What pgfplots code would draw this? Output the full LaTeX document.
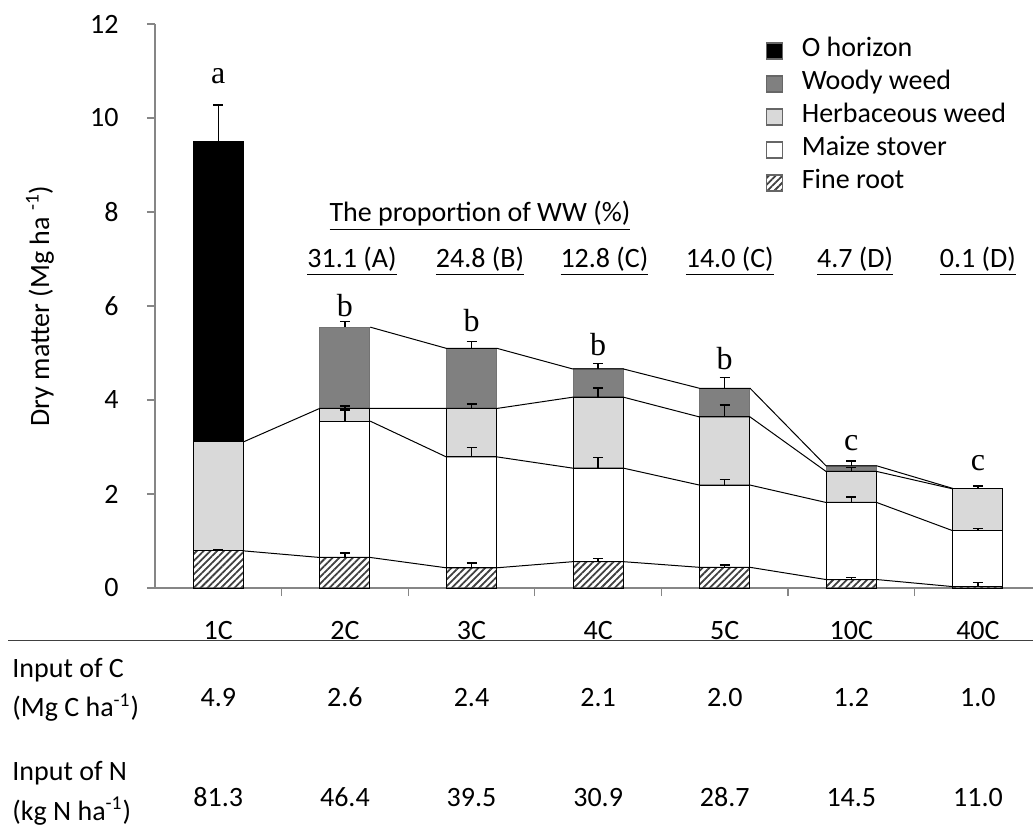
\documentclass[border=0pt]{standalone}
\usepackage{fontspec}
\setmainfont{Carlito}
\newfontfamily\timesf{Liberation Serif}
\usepackage{pgfplots}
\pgfplotsset{compat=1.18}
\usetikzlibrary{patterns.meta}
\definecolor{axgray}{HTML}{868686}
\definecolor{wwgray}{HTML}{808080}
\definecolor{hwgray}{HTML}{D9D9D9}

\pgfplotstableread{
x y ey
0 0.79 0.03
0 9.49 0.79
1 0.65 0.09
1 3.55 0.24
1 3.82 0.05
1 5.55 0.12
2 0.43 0.10
2 2.79 0.20
2 3.82 0.10
2 5.10 0.14
3 0.56 0.07
3 2.55 0.23
3 4.06 0.20
3 4.66 0.12
4 0.44 0.05
4 2.19 0.12
4 3.64 0.25
4 4.25 0.23
5 0.18 0.04
5 1.82 0.12
5 2.48 0.08
5 2.60 0.10
6 0.03 0.09
6 1.22 0.05
6 2.11 0.06
}\errtable

\begin{document}
\fontsize{14}{17}\selectfont
\begin{tikzpicture}
\useasboundingbox (0,0) rectangle (516.5pt,418pt);
\pgfplotsset{
  base/.style={
    scale only axis, width=439pt, height=282pt,
    at={(77.5pt,124pt)}, anchor=south west,
    xmin=-0.5, xmax=6.435, ymin=0, ymax=12,
    clip=false,
  },
  sq legend/.style={legend image code/.code={\draw[##1,line width=0.6pt,draw=black!60] (0pt,-4pt) rectangle (8pt,4pt);}},
}
\begin{axis}[base, ybar stacked, bar width=0.395,
  axis lines*=left,
  axis line style={axgray, line width=0.6pt},
  ytick={0,2,...,12},
  tick align=outside,
  major tick length=4pt, minor tick length=4pt,
  every tick/.style={axgray, line width=0.6pt},
  xtick={0,...,6},
  xticklabels={1C,2C,3C,4C,5C,10C,40C},
  major x tick style={draw=none},
  minor xtick={0.5,1.5,...,5.5},
  /pgf/number format/assume math mode=true,
  yticklabel style={anchor=east, inner sep=0pt, xshift=-14pt},
  xticklabel style={anchor=base, inner sep=0pt, yshift=-21.85pt},
  ylabel={Dry matter (Mg ha \textsuperscript{-1})},
  every axis y label/.style={at={(rel axis cs:0,0.5)}, xshift=-57.5pt, rotate=90, anchor=center},
  legend style={draw=none, fill=none, inner sep=0pt, at={(0.695,0.982)}, anchor=north west,
    nodes={inner sep=0pt, text height=11pt, text depth=5.5pt},
    /tikz/every odd column/.append style={column sep=9.5pt}},
  legend cell align=left,
  reverse legend,
]
\addplot[draw=black, line width=0.5pt, pattern={Lines[angle=45,distance=2.4pt,line width=0.9pt]}, pattern color=black!75, sq legend]
  coordinates {(0,0.79)(1,0.65)(2,0.43)(3,0.56)(4,0.44)(5,0.18)(6,0.03)};
\addplot[fill=white, draw=black, line width=0.5pt, sq legend]
  coordinates {(0,0)(1,2.90)(2,2.36)(3,1.99)(4,1.75)(5,1.64)(6,1.19)};
\addplot[fill=hwgray, draw=black, line width=0.5pt, sq legend]
  coordinates {(0,2.32)(1,0.27)(2,1.03)(3,1.51)(4,1.45)(5,0.66)(6,0.89)};
\addplot[fill=wwgray, draw=black!55, line width=0.5pt, sq legend]
  coordinates {(0,0)(1,1.73)(2,1.28)(3,0.60)(4,0.61)(5,0.12)(6,0.01)};
\addplot[fill=black, draw=black, line width=0.5pt, sq legend]
  coordinates {(0,6.38)};
\legend{Fine root, Maize stover, Herbaceous weed, Woody weed, O horizon}
\end{axis}

\begin{axis}[base, hide axis]
\addplot[black, line width=0.5pt, mark=none] coordinates {(0.2,0.79)(0.8,0.65)(1.2,0.65)(1.8,0.43)(2.2,0.43)(2.8,0.56)(3.2,0.56)(3.8,0.44)(4.2,0.44)(4.8,0.18)(5.2,0.18)(5.8,0.03)};
\addplot[black, line width=0.5pt, mark=none] coordinates {(1.2,3.55)(1.8,2.79)(2.2,2.79)(2.8,2.55)(3.2,2.55)(3.8,2.19)(4.2,2.19)(4.8,1.82)(5.2,1.82)(5.8,1.22)};
\addplot[black, line width=0.5pt, mark=none] coordinates {(0.2,3.11)(0.8,3.82)(1.2,3.82)(1.8,3.82)(2.2,3.82)(2.8,4.06)(3.2,4.06)(3.8,3.64)(4.2,3.64)(4.8,2.48)(5.2,2.48)(5.8,2.11)};
\addplot[black, line width=0.5pt, mark=none] coordinates {(1.2,5.55)(1.8,5.10)(2.2,5.10)(2.8,4.66)(3.2,4.66)(3.8,4.25)(4.2,4.25)(4.8,2.60)(5.2,2.60)(5.8,2.12)};
\addplot[draw=none, mark=none,
  error bars/.cd, y dir=plus, y explicit,
  error bar style={draw=black, line width=0.75pt},
  error mark options={draw=black, mark size=2.5pt, line width=0.75pt, rotate=90}]
  table[x=x, y=y, y error=ey] {\errtable};
% letters
\node[font=\timesf\fontsize{16}{19}\selectfont] at (axis cs:0,10.9) {a};
\node[font=\timesf\fontsize{16}{19}\selectfont] at (axis cs:1,6.02) {b};
\node[font=\timesf\fontsize{16}{19}\selectfont] at (axis cs:2,5.68) {b};
\node[font=\timesf\fontsize{16}{19}\selectfont] at (axis cs:3,5.19) {b};
\node[font=\timesf\fontsize{16}{19}\selectfont] at (axis cs:4,4.89) {b};
\node[font=\timesf\fontsize{16}{19}\selectfont] at (axis cs:5,3.09) {c};
\node[font=\timesf\fontsize{16}{19}\selectfont] at (axis cs:6,2.66) {c};
% WW proportions
\node[anchor=base] at (axis cs:2.067,7.79) {\underline{The proportion of WW (\%)}};
\node[anchor=base] at (axis cs:1.056,6.82) {\underline{31.1 (A)}};
\node[anchor=base] at (axis cs:2.067,6.82) {\underline{24.8 (B)}};
\node[anchor=base] at (axis cs:3.05,6.82) {\underline{12.8 (C)}};
\node[anchor=base] at (axis cs:4.04,6.82) {\underline{14.0 (C)}};
\node[anchor=base] at (axis cs:5.03,6.82) {\underline{4.7 (D)}};
\node[anchor=base] at (axis cs:6.0,6.82) {\underline{0.1 (D)}};
% table values
\node[anchor=base] at (axis cs:0,-2.525) {4.9};
\node[anchor=base] at (axis cs:1,-2.525) {2.6};
\node[anchor=base] at (axis cs:2,-2.525) {2.4};
\node[anchor=base] at (axis cs:3,-2.525) {2.1};
\node[anchor=base] at (axis cs:4,-2.525) {2.0};
\node[anchor=base] at (axis cs:5,-2.525) {1.2};
\node[anchor=base] at (axis cs:6,-2.525) {1.0};
\node[anchor=base] at (axis cs:0,-4.653) {81.3};
\node[anchor=base] at (axis cs:1,-4.653) {46.4};
\node[anchor=base] at (axis cs:2,-4.653) {39.5};
\node[anchor=base] at (axis cs:3,-4.653) {30.9};
\node[anchor=base] at (axis cs:4,-4.653) {28.7};
\node[anchor=base] at (axis cs:5,-4.653) {14.5};
\node[anchor=base] at (axis cs:6,-4.653) {11.0};
\end{axis}

\draw[black!75, line width=0.6pt] (4pt,97.65pt) -- (516.5pt,97.65pt);
\node[anchor=base west, inner sep=0pt] at (6pt,79.5pt) {Input of C};
\node[anchor=base west, inner sep=0pt] at (6pt,59.7pt) {(Mg C ha\textsuperscript{-1})};
\node[anchor=base west, inner sep=0pt] at (6pt,28pt) {Input of N};
\node[anchor=base west, inner sep=0pt] at (6pt,8pt) {(kg N ha\textsuperscript{-1})};
\end{tikzpicture}
\end{document}
